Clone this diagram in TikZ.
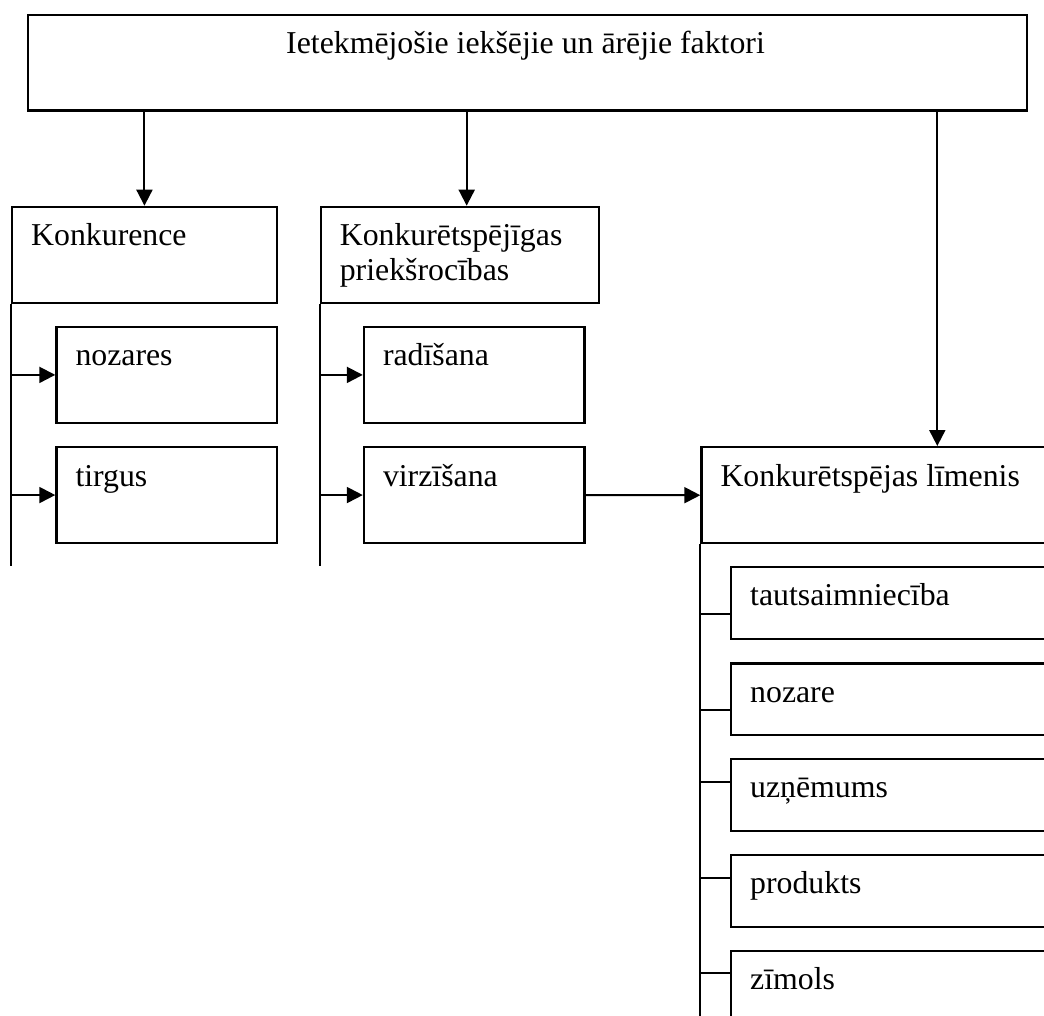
\documentclass[tikz,border=0pt]{standalone}
\usepackage{fontspec}
\setmainfont{Liberation Serif}
\usetikzlibrary{arrows.meta,calc}
\begin{document}
\begin{tikzpicture}[x=1pt,y=-1pt,
  box/.style={draw,line width=2.4pt,rectangle,inner sep=0pt,anchor=north west},
  lbl/.style={anchor=base west,inner sep=0pt,font=\fontsize{31.8}{35}\selectfont,align=left},
  conn/.style={line width=2pt},
  arr/.style={conn,-{Triangle[length=16pt,width=16pt]}}]
\clip (0,0) rectangle (1044,1016);
\fill[white] (0,0) rectangle (1044,1016);

% top box
\node[box,minimum width=999,minimum height=95.3] (top) at (26.5,14) {};
\node[lbl,anchor=base] (toptxt) at (525.5,54) {Ietekmējošie iekšējie un ārējie faktori};

% left column
\node[box,minimum width=264.5,minimum height=96] (konk) at (11,205.7) {};
\node[lbl] (konktxt) at ($(konk.north west)+(20,40)$) {Konkurence};
\node[box,minimum width=220.2,minimum height=96] (noz) at (55.3,325.7) {};
\node[lbl] (noztxt) at ($(noz.north west)+(20,40)$) {nozares};
\node[box,minimum width=220.2,minimum height=95.7] (tirg) at (55.3,446) {};
\node[lbl] (tirgtxt) at ($(tirg.north west)+(20,40)$) {tirgus};

% middle column (two-line label: base anchor sits on the last line)
\node[box,minimum width=278.4,minimum height=96] (adv) at (319.6,205.7) {};
\node[lbl] (advtxt) at ($(adv.north west)+(20,75)$) {Konkurētspējīgas\\priekšrocības};
\node[box,minimum width=220.6,minimum height=96] (rad) at (362.8,325.7) {};
\node[lbl] (radtxt) at ($(rad.north west)+(20,40)$) {radīšana};
\node[box,minimum width=220.6,minimum height=95.7] (virz) at (362.8,446) {};
\node[lbl] (virztxt) at ($(virz.north west)+(20,40)$) {virzīšana};

% right column
\node[box,minimum width=400,minimum height=96] (lim) at (700.3,446) {};
\node[lbl] (limtxt) at ($(lim.north west)+(20,40)$) {Konkurētspējas līmenis};
\node[box,minimum width=400,minimum height=72.3] (taut) at (730,565.7) {};
\node[lbl] (tauttxt) at ($(taut.north west)+(20,40)$) {tautsaimniecība};
\node[box,minimum width=400,minimum height=71.4] (nzr) at (730,662.3) {};
\node[lbl] (nzrtxt) at ($(nzr.north west)+(20,40)$) {nozare};
\node[box,minimum width=400,minimum height=72.3] (uzn) at (730,757.7) {};
\node[lbl] (uzntxt) at ($(uzn.north west)+(20,40)$) {uzņēmums};
\node[box,minimum width=400,minimum height=72.3] (prod) at (730,853.7) {};
\node[lbl] (prodtxt) at ($(prod.north west)+(20,40)$) {produkts};
\node[box,minimum width=400,minimum height=100] (zim) at (730,949.7) {};
\node[lbl] (zimtxt) at ($(zim.north west)+(20,40)$) {zīmols};

% arrows from the top box
\coordinate (a2) at (466.7,0);
\coordinate (a3) at (937.3,0);
\draw[arr] (top.south -| konk.north) -- (konk.north);
\draw[arr] (top.south -| a2) -- (adv.north -| a2);
\draw[arr] (top.south -| a3) -- (lim.north -| a3);

% left spine
\coordinate (s1) at (11,565.7);
\draw[conn] (konk.south west) -- (s1);
\draw[arr] (s1 |- noz.west) -- (noz.west);
\draw[arr] (s1 |- tirg.west) -- (tirg.west);

% middle spine
\coordinate (s2) at (319.6,565.7);
\draw[conn] (adv.south west) -- (s2);
\draw[arr] (s2 |- rad.west) -- (rad.west);
\draw[arr] (s2 |- virz.west) -- (virz.west);

% virzīšana to level
\draw[arr] (virz.east) -- (lim.west);

% right spine
\coordinate (s3) at (700.3,1030);
\draw[conn] (lim.south west) -- (s3);
\coordinate (t1) at ($(taut.north west)+(0,48.3)$);
\coordinate (t2) at ($(nzr.north west)+(0,47.7)$);
\coordinate (t3) at ($(uzn.north west)+(0,24)$);
\coordinate (t4) at ($(prod.north west)+(0,24.6)$);
\coordinate (t5) at ($(zim.north west)+(0,23.3)$);
\foreach \t in {t1,t2,t3,t4,t5} \draw[conn] (\t -| s3) -- (\t);
\end{tikzpicture}
\end{document}
